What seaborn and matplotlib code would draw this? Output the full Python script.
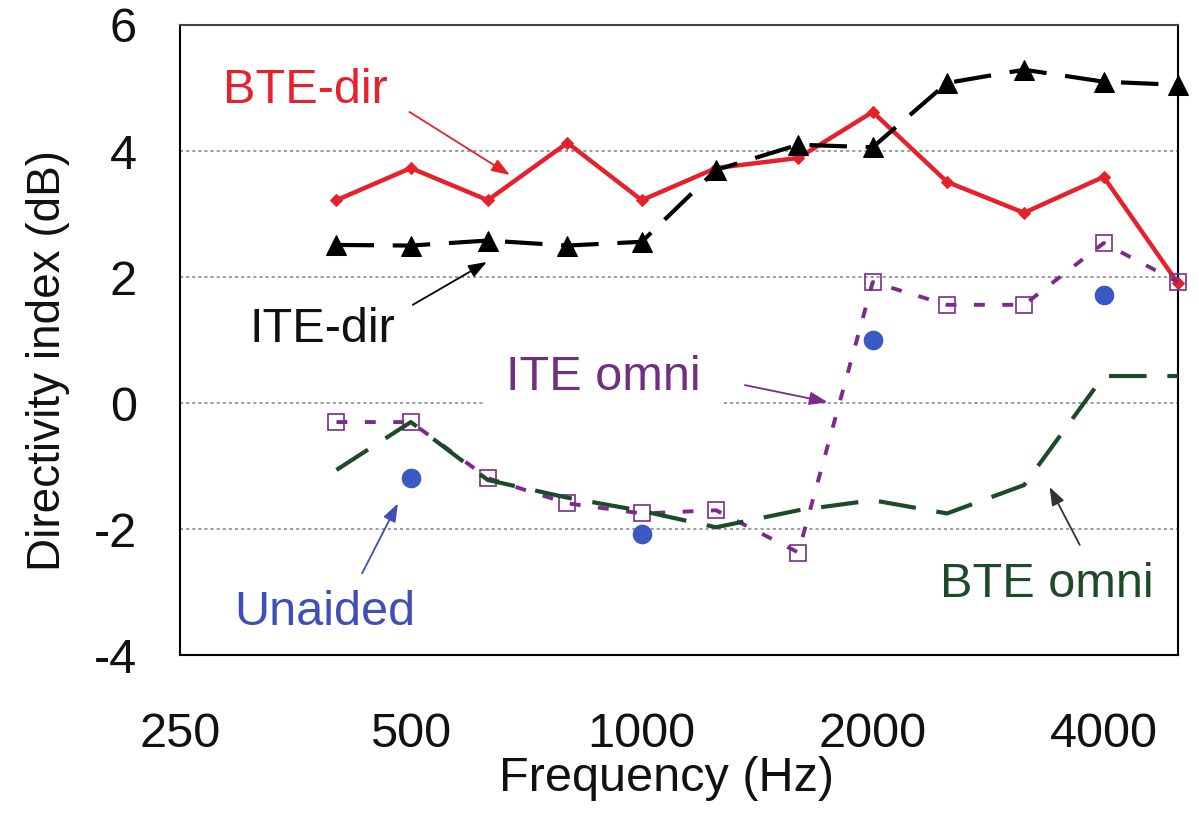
import matplotlib
matplotlib.use("Agg")
import matplotlib.pyplot as plt
from matplotlib.ticker import FixedLocator, FixedFormatter, NullFormatter
import seaborn as sns

# One-third-octave centre frequencies (Hz)
freqs = [400, 500, 630, 800, 1000, 1250, 1600, 2000, 2500, 3150, 4000, 5000]

# Directivity index (dB) per configuration
bte_dir = [3.22, 3.73, 3.22, 4.13, 3.22, 3.73, 3.89, 4.62, 3.51, 3.02, 3.59, 1.90]
ite_dir = [2.51, 2.50, 2.58, 2.50, 2.56, 3.70, 4.10, 4.06, 5.08, 5.29, 5.10, 5.05]
ite_omni = [-0.30, -0.30, -1.19, -1.59, -1.75, -1.70, -2.37, 1.92, 1.56, 1.56, 2.54, 1.92]
bte_omni = [-1.06, -0.30, -1.22, -1.50, -1.71, -1.97, -1.70, -1.54, -1.75, -1.30, 0.43, 0.43]

unaided_freqs = [500, 1000, 2000, 4000]
unaided = [-1.19, -2.08, 1.00, 1.71]

# Axis ticks
x_major = [250, 500, 1000, 2000, 4000]
x_major_labels = ["250", "500", "1000", "2000", "4000"]
x_minor = [315, 400, 630, 800, 1250, 1600, 2500, 3150]
y_major = [-4, -2, 0, 2, 4, 6]
y_minor = [-3, -1, 1, 3, 5]

RED = "#e5222c"
BLACK = "#000000"
PURPLE = "#7a2b8c"
GREEN = "#1d4a28"
BLUE = "#3a59c4"

sns.set_style("white")
plt.rcParams["font.family"] = ["Liberation Sans", "DejaVu Sans"]
plt.rcParams["axes.unicode_minus"] = False
plt.rcParams["text.color"] = "#111111"
plt.rcParams["axes.labelcolor"] = "#111111"
plt.rcParams["xtick.color"] = "#111111"
plt.rcParams["ytick.color"] = "#111111"

fig = plt.figure(figsize=(11.99, 8.16), dpi=100)
ax = fig.add_axes([0.150, 0.197, 0.8325, 0.7724])

ax.set_xscale("log")

sns.lineplot(x=freqs, y=bte_dir, ax=ax, color=RED, linewidth=3.2,
             marker="D", markersize=6, markeredgecolor=RED,
             estimator=None, zorder=3, clip_on=False)
sns.lineplot(x=freqs, y=ite_dir, ax=ax, color=BLACK, linewidth=3.0,
             linestyle=(0, (9, 4.5)), marker="^", markersize=15,
             markeredgecolor=BLACK, estimator=None, zorder=4, clip_on=False)
sns.lineplot(x=freqs, y=ite_omni, ax=ax, color=PURPLE, linewidth=2.8,
             linestyle=(0, (2.8, 4.5)), marker="s", markersize=12,
             markerfacecolor="none", markeredgecolor=PURPLE,
             markeredgewidth=1.2, estimator=None, zorder=5, clip_on=False)
sns.lineplot(x=freqs, y=bte_omni, ax=ax, color=GREEN, linewidth=3.0,
             linestyle=(0, (9, 5)), estimator=None, zorder=6, clip_on=False)
sns.scatterplot(x=unaided_freqs, y=unaided, ax=ax, color=BLUE, s=200,
                edgecolor=BLUE, linewidth=0, zorder=7, clip_on=False)

ax.set_xlim(250, 5000)
ax.set_ylim(-4, 6)

ax.xaxis.set_major_locator(FixedLocator(x_major))
ax.xaxis.set_major_formatter(FixedFormatter(x_major_labels))
ax.xaxis.set_minor_locator(FixedLocator(x_minor))
ax.xaxis.set_minor_formatter(NullFormatter())
ax.yaxis.set_major_locator(FixedLocator(y_major))
ax.yaxis.set_minor_locator(FixedLocator(y_minor))

ax.tick_params(axis="both", which="both", direction="in", length=6,
               width=1.0, color="black", top=False, right=False)
ax.tick_params(axis="x", which="major", labelsize=35, pad=41)
ax.tick_params(axis="y", which="major", labelsize=35, pad=31)

for side in ["left", "right", "top", "bottom"]:
    ax.spines[side].set_visible(True)
    ax.spines[side].set_color("black")
    ax.spines[side].set_linewidth(1.5)
ax.spines["top"].set_color("#444444")

ax.set_axisbelow(True)
ax.grid(False)
ax.yaxis.grid(True, which="major", color="#808080", linewidth=1.1,
              linestyle=(0, (2, 2)))

ax.set_xlabel("Frequency (Hz)", fontsize=35)
ax.set_ylabel("Directivity index (dB)", fontsize=33)
ax.xaxis.set_label_coords(0.488, -0.160)
ax.yaxis.set_label_coords(-0.110, 0.467)

# Series labels with pointer arrows
labels = [
    ("BTE-dir", 364, 4.76, RED, RED, (498, 4.62), (673, 3.62), None),
    ("ITE-dir", 384, 0.97, "#111111", BLACK, (503, 1.56), (628, 2.24), None),
    ("ITE omni", 892, 0.206, "#71307f", PURPLE, (1363, 0.286), (1747, 0.016), "white"),
    ("Unaided", 386, -3.52, "#3f4fb5", "#3f4fb5", (432, -2.70), (481, -1.59), None),
    ("BTE omni", 3372, -3.08, GREEN, "#333333", (3723, -2.25), (3400, -1.33), None),
]
for text, tx, ty, tcol, acol, start, end, box in labels:
    kw = {}
    if box:
        kw["bbox"] = dict(boxstyle="square,pad=0.45", fc=box, ec="none")
    ax.text(tx, ty, text, color=tcol, fontsize=35, ha="center",
            va="baseline", zorder=2, **kw)
    ax.annotate("", xy=end, xytext=start,
                arrowprops=dict(arrowstyle="-|>,head_length=0.55,head_width=0.2",
                                color=acol, lw=1.3, mutation_scale=20,
                                shrinkA=0, shrinkB=0),
                zorder=2)

fig.savefig("out.png", dpi=100, facecolor="white")
